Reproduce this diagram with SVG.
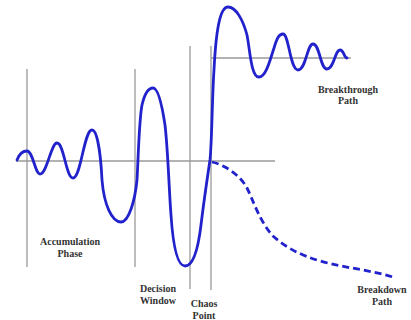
<svg xmlns="http://www.w3.org/2000/svg" width="411" height="320" viewBox="0 0 411 320">
<style>
.ax{stroke:#9a9a9a;stroke-width:1.3;fill:none}
.cv{stroke:#2222cc;stroke-width:2.8;fill:none;stroke-linecap:round;stroke-linejoin:round}
.dash{stroke-dasharray:7 4;stroke-linecap:butt}
.lb{font-family:"Liberation Serif","Times New Roman",serif;font-weight:bold;font-size:10px;fill:#333;text-anchor:middle}
</style>
<rect width="411" height="320" fill="#fff"/>
<g id="axes">
<line class="ax" x1="16" y1="161" x2="275" y2="161"/>
<line class="ax" x1="211" y1="58" x2="351" y2="58"/>
<line class="ax" x1="27" y1="69" x2="27" y2="267"/>
<line class="ax" x1="135" y1="69" x2="135" y2="267"/>
<line class="ax" x1="190" y1="46" x2="190" y2="289"/>
<line class="ax" x1="211" y1="46" x2="211" y2="290"/>
</g>
<g id="connectors">
<path id="main-curve" class="cv" d="M17,160 C20,152 24,151 27,151 C33,151 35,174 40,174 C47,174 51,143 57,143 C64,143 66,178 73,178 C81,178 84,130 92,130 C98,130 101,160 102,180 C104,205 112,222 121,222 C129,222 135,200 137,180 C138,165 139,120 142,105 C145,92 149,88 153,88 C158,88 162,105 165,125 C168,150 169,190 171,215 C173,245 177,266 185,266 C193,266 198,250 201,225 C204,200 207,180 210,160 C212,140 212,100 214,70 C216,30 220,7 228,7 C236,7 243,20 247,35 C250,50 251,77 259,77 C266,77 270,60 274,48 C277,38 279,34 283,34 C289,34 290,70 298,70 C306,70 307,44 313,44 C320,44 320,69 327,69 C334,69 335,50 340,50 C344,50 344,58 347,58"/>
<path id="breakdown-curve" class="cv dash" d="M212,162 C225,165 240,175 247,188 C253,200 260,222 273,236 C285,247 300,255 320,261 C345,268 370,270 393,277"/>
</g>
<g id="breakthrough-label"><text class="lb" x="348" y="93">Breakthrough</text><text class="lb" x="348" y="104">Path</text></g>
<g id="accumulation-label"><text class="lb" x="70" y="245">Accumulation</text><text class="lb" x="70" y="257">Phase</text></g>
<g id="decision-label"><text class="lb" x="158" y="292">Decision</text><text class="lb" x="158" y="304">Window</text></g>
<g id="chaos-label"><text class="lb" x="204" y="307">Chaos</text><text class="lb" x="204" y="319">Point</text></g>
<g id="breakdown-label"><text class="lb" x="382" y="293">Breakdown</text><text class="lb" x="382" y="305">Path</text></g>
</svg>
